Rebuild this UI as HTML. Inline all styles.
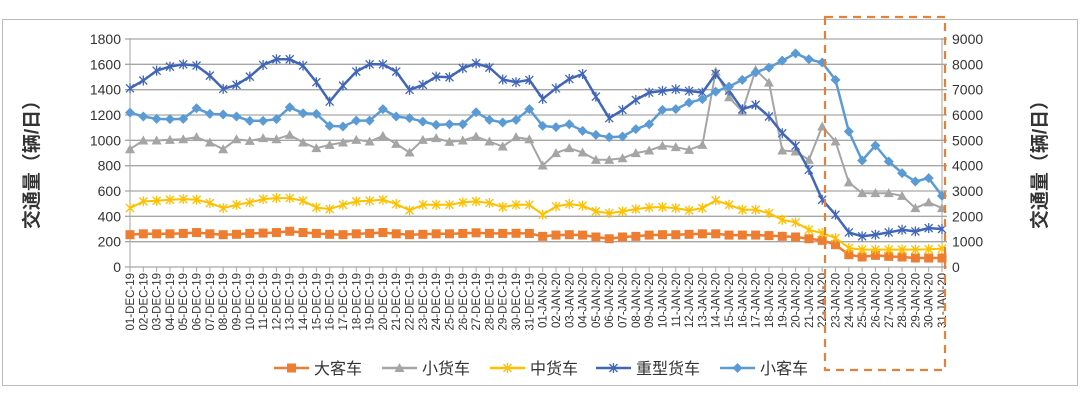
<!DOCTYPE html>
<html><head><meta charset="utf-8"><style>
html,body{margin:0;padding:0;background:#fff;width:1080px;height:406px;overflow:hidden}
text{font-family:"Liberation Sans","Noto Sans CJK SC",sans-serif;fill:#333}
</style></head><body>
<svg id="s" width="1080" height="406" xmlns="http://www.w3.org/2000/svg"></svg>
<script>
const S=document.getElementById('s');let h='';
const X0=130,DX=(942-130)/61,Y0=267,K=228/1800;
const X=i=>X0+DX*i, Y=v=>Y0-v*K;
h+='<rect x="2.5" y="19.5" width="1075" height="366" fill="#fff" stroke="#bbb"/>';
for(let v=0;v<=1800;v+=200){const y=Y(v);h+=`<line x1="${X0-5}" x2="947" y1="${y}" y2="${y}" stroke="#a6a6a6" stroke-width="1.3"/>`;
h+=`<text x="121" y="${y+5}" font-size="14" text-anchor="end">${v}</text>`;
h+=`<text x="952" y="${y+5}" font-size="14">${v*5}</text>`;}
h+=`<line x1="${X0}" x2="${X0}" y1="38" y2="${Y0}" stroke="#a6a6a6"/><line x1="942" x2="942" y1="38" y2="${Y0}" stroke="#a6a6a6"/>`;
const mon=['DEC-19','JAN-20'];
for(let i=0;i<62;i++){const x=X(i);h+=`<line x1="${x}" x2="${x}" y1="${Y0}" y2="${Y0+5}" stroke="#a6a6a6"/>`;
const d=i<31?i+1:i-30,m=i<31?'DEC-19':'JAN-20';const lab=(d<10?'0':'')+d+'-'+m;
h+=`<text transform="translate(${x+4},273) rotate(-90)" font-size="11.5" text-anchor="end">${lab}</text>`;}
const heavy=[1411,1472,1550,1582,1600,1590,1511,1406,1438,1503,1595,1640,1640,1590,1459,1306,1432,1543,1600,1600,1543,1398,1438,1503,1498,1569,1608,1574,1480,1459,1477,1327,1411,1485,1524,1345,1175,1240,1319,1377,1390,1403,1390,1377,1524,1393,1245,1280,1188,1056,957,767,531,413,273,242,255,273,294,281,307,300];
const car=[1219,1188,1169,1167,1169,1253,1209,1204,1188,1154,1154,1167,1261,1214,1209,1114,1109,1156,1156,1246,1188,1175,1148,1122,1127,1127,1222,1162,1141,1162,1246,1114,1104,1127,1075,1043,1025,1030,1088,1127,1240,1246,1298,1325,1385,1424,1477,1537,1574,1629,1687,1640,1614,1477,1070,841,959,833,741,675,702,562];
const grey=[930,999,999,1004,1009,1025,983,930,1009,996,1017,1009,1043,983,938,964,983,1004,991,1035,972,904,1004,1017,988,999,1030,991,951,1025,1009,801,899,938,904,846,846,859,899,920,957,946,925,964,1543,1340,1227,1556,1456,920,912,846,1109,991,668,583,583,583,562,465,510,465];
const yel=[465,518,523,531,536,531,505,465,491,510,536,544,544,523,470,457,491,518,523,531,497,447,491,491,491,510,518,505,473,491,491,413,478,497,484,439,425,439,457,470,473,465,447,465,526,491,452,452,425,373,352,294,268,229,150,137,137,137,137,137,140,145];
const org=[255,262,262,262,265,272,262,255,258,265,268,272,282,272,265,258,255,262,265,272,262,255,258,262,262,265,270,265,265,266,265,242,252,255,252,237,223,237,242,252,255,255,258,262,262,252,252,252,248,242,237,223,210,176,97,79,92,84,79,71,71,71];
function line(d,c,w){return `<polyline fill="none" stroke="${c}" stroke-width="${w}" stroke-linejoin="round" points="${d.map((v,i)=>X(i).toFixed(1)+','+Y(v).toFixed(1)).join(' ')}"/>`}
function mk(t,x,y,c){if(t=='sq')return `<rect x="${x-4.5}" y="${y-4.5}" width="9" height="9" fill="${c}"/>`;
if(t=='tri')return `<polygon points="${x},${y-5} ${x+5},${y+4} ${x-5},${y+4}" fill="${c}"/>`;
if(t=='dia')return `<polygon points="${x},${y-5} ${x+5},${y} ${x},${y+5} ${x-5},${y}" fill="${c}"/>`;
if(t=='x')return `<path d="M${x-4},${y-4}L${x+4},${y+4}M${x-4},${y+4}L${x+4},${y-4}M${x},${y-5}V${y+5}" stroke="${c}" stroke-width="1.3"/>`;}
const ser=[[org,'#ed7d31','sq',2.5],[grey,'#a5a5a5','tri',2],[yel,'#ffc000','x',2],[heavy,'#4166b8','x',2.5],[car,'#5b9bd5','dia',2.5]];
for(const [d,c,t,w] of ser){h+=line(d,c,w);d.forEach((v,i)=>h+=mk(t,X(i),Y(v),c));}
h+='<rect x="825" y="17" width="120" height="353" fill="none" stroke="#e2813a" stroke-width="2.2" stroke-dasharray="8,6"/>';
const leg=[[274,'大客车',0],[382,'小货车',1],[490,'中货车',2],[596,'重型货车',3],[720,'小客车',4]];
for(const [x,t,k] of leg){const c=ser[k][1];h+=`<line x1="${x}" x2="${x+35}" y1="368" y2="368" stroke="${c}" stroke-width="2.5"/>`+mk(ser[k][2],x+17.5,368,c)+`<text x="${x+40}" y="374" font-size="16">${t}</text>`;}
h+='<text transform="translate(38,160) rotate(-90)" font-size="19" text-anchor="middle" style="font-weight:bold">交通量（辆/日）</text>';
h+='<text transform="translate(1046,160) rotate(-90)" font-size="19" text-anchor="middle" style="font-weight:bold">交通量（辆/日）</text>';
S.innerHTML=h;
</script>
</body></html>
